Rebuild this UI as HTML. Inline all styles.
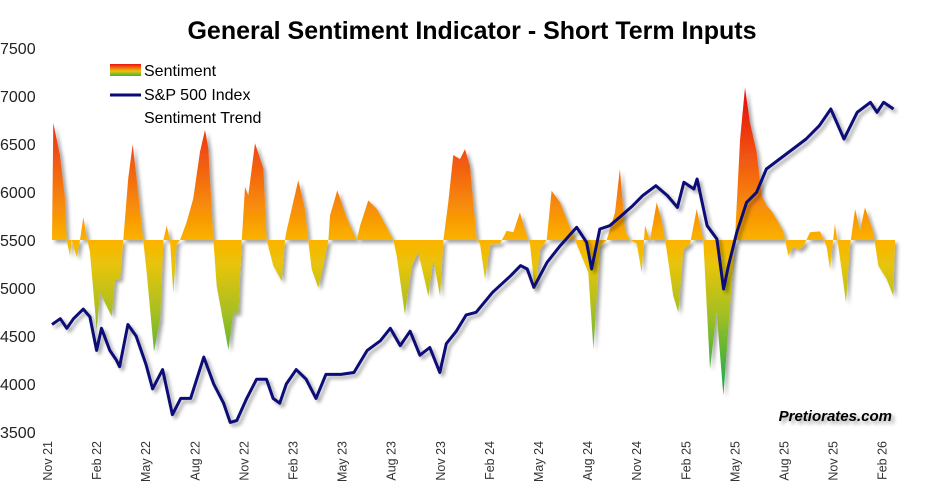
<!DOCTYPE html>
<html><head><meta charset="utf-8"><style>
html,body{margin:0;padding:0;background:#fff;}
svg{display:block;font-family:"Liberation Sans",sans-serif;}
</style></head><body>
<svg id="chart" width="945" height="494" viewBox="0 0 945 494">
<defs>
<linearGradient id="sentGrad" gradientUnits="userSpaceOnUse" x1="0" y1="99" x2="0" y2="384">
<stop offset="0" stop-color="#e8140f"/>
<stop offset="0.22" stop-color="#f25a12"/>
<stop offset="0.5" stop-color="#fbb400"/>
<stop offset="0.58" stop-color="#e8c40a"/>
<stop offset="0.75" stop-color="#a6bf22"/>
<stop offset="1" stop-color="#1fae45"/>
</linearGradient>
<linearGradient id="legGrad" x1="0" y1="0" x2="0" y2="1">
<stop offset="0" stop-color="#e8140f"/><stop offset="0.35" stop-color="#f57a10"/>
<stop offset="0.6" stop-color="#e8c40a"/><stop offset="1" stop-color="#3cb43c"/>
</linearGradient>
<filter id="shadow" x="-5%" y="-5%" width="110%" height="115%">
<feDropShadow dx="3" dy="3" stdDeviation="1.8" flood-color="#000" flood-opacity="0.35"/>
</filter>
</defs>
<text x="472" y="39" text-anchor="middle" font-size="25" font-weight="bold" fill="#000">General Sentiment Indicator - Short Term Inputs</text>
<g id="yaxis"></g>
<g id="xaxis"></g>
<g id="plot"></g>
<g font-size="16" fill="#000">
<rect x="110" y="64" width="31" height="12" fill="url(#legGrad)"/>
<text x="144" y="76">Sentiment</text>
<line x1="110" y1="95" x2="141" y2="95" stroke="#0a0a78" stroke-width="3"/>
<text x="144" y="100">S&amp;P 500 Index</text>
<text x="144" y="123">Sentiment Trend</text>
</g>
<text x="892" y="421" text-anchor="end" font-size="15" font-weight="bold" font-style="italic" fill="#000" filter="url(#shadow)">Pretiorates.com</text>
</svg>
<script>
const yTicks = [3500,4000,4500,5000,5500,6000,6500,7000,7500];
const xLabels = ["Nov 21","Feb 22","May 22","Aug 22","Nov 22","Feb 23","May 23","Aug 23","Nov 23","Feb 24","May 24","Aug 24","Nov 24","Feb 25","May 25","Aug 25","Nov 25","Feb 26"];
const baseline = 5500;
const spMonths = [0,0.5,0.9,1.3,1.9,2.3,2.7,3.0,3.5,3.9,4.1,4.6,5.1,5.7,6.1,6.7,7.3,7.8,8.4,9.2,9.8,10.4,10.8,11.2,11.8,12.4,13.0,13.4,13.8,14.2,14.8,15.4,16.0,16.6,17.5,18.3,19.1,19.9,20.5,21.1,21.7,22.3,22.9,23.5,23.9,24.5,25.1,25.7,26.7,27.8,28.4,28.8,29.2,30.0,30.8,31.8,32.4,32.7,33.2,33.8,34.4,35.2,35.8,36.6,37.3,37.9,38.3,38.9,39.1,39.7,40.3,40.7,41.0,41.5,42.1,42.7,43.3,44.1,44.9,45.7,46.5,47.2,48.0,48.8,49.6,50.0,50.4,51.0];
const spValues = [4620,4680,4580,4680,4780,4700,4350,4580,4350,4250,4180,4620,4500,4200,3950,4150,3680,3850,3850,4280,4000,3800,3600,3620,3850,4050,4050,3850,3800,4000,4150,4050,3850,4100,4100,4120,4350,4450,4580,4400,4550,4300,4380,4120,4420,4550,4720,4747,4955,5128,5233,5198,5007,5267,5441,5632,5476,5198,5615,5649,5736,5858,5962,6066,5962,5840,6101,6031,6135,5649,5510,4990,5233,5580,5892,5997,6240,6344,6448,6552,6691,6865,6552,6830,6934,6830,6934,6865];
const sentMonths = [0,0.08,0.48,0.79,0.89,1.09,1.19,1.5,1.7,1.9,2.14,2.3,2.71,2.91,3.31,3.62,3.82,4.12,4.32,4.62,4.89,5.13,5.53,5.74,6.18,6.55,6.75,6.95,7.15,7.35,7.56,7.76,8.16,8.56,8.97,9.27,9.47,9.78,9.98,10.69,10.99,11.29,11.5,11.7,11.9,12.3,12.81,13.01,13.41,13.92,14.12,14.22,14.53,14.93,15.33,15.53,15.74,16.14,16.44,16.75,16.85,17.29,17.86,18.47,18.67,19.17,19.68,20.08,20.69,20.89,21.39,21.8,22.2,22.81,23.11,23.52,23.72,24.02,24.32,24.73,25.03,25.33,25.74,25.94,26.24,26.55,27.15,27.56,27.96,28.36,28.67,28.97,29.27,29.58,29.98,30.28,30.79,31.19,31.7,32.5,32.81,33.21,33.62,34.12,34.42,34.73,35.03,35.44,35.74,35.94,36.24,36.65,36.95,37.25,37.65,37.96,38.26,38.67,39.07,39.47,39.88,40.28,40.69,41.09,41.39,41.7,42.0,42.3,42.71,43.01,43.31,43.62,44.02,44.32,44.63,44.93,45.23,45.53,45.94,46.55,46.95,47.15,47.45,47.66,48.12,48.36,48.67,48.97,49.27,49.78,50.08,50.58,50.99,51.09];
const sentValues = [5500,6720,6385,5930,5500,5336,5500,5318,5500,5738,5500,5380,4566,4951,4811,4706,5091,5091,5500,6140,6497,6140,5500,5160,4339,4671,5500,5650,5500,4951,5460,5500,5685,5930,6420,6647,6455,5500,5020,4357,4741,4741,5500,6052,5965,6507,6245,5500,5231,5073,5500,5598,5825,6122,5825,5500,5196,5003,5231,5500,5755,6017,5730,5500,5650,5913,5825,5700,5500,5336,4724,5230,5371,4916,5300,4916,5500,5895,6385,6343,6447,6274,5500,5460,5094,5450,5460,5597,5580,5788,5600,5460,4955,5400,5500,6014,5892,5719,5500,5163,4366,5430,5500,5788,6240,5600,5500,5460,5163,5650,5500,5892,5700,5400,4920,4747,5400,5460,5823,5500,4157,4750,3880,4816,5500,6551,7089,6725,6413,5961,5858,5800,5684,5590,5337,5430,5400,5430,5580,5590,5430,5198,5667,5430,4851,5430,5823,5600,5840,5580,5233,5094,4920,5500];

const NS = "http://www.w3.org/2000/svg";
function xScale(m){ return 52 + m * 16.5; }
function labelX(i){ return 52 + i * 49.1; }
function yScale(v){ return 432 - (v - 3500) / 4000 * 384; }
function mk(tag, attrs, parent){ const e = document.createElementNS(NS, tag); for (const k in attrs) e.setAttribute(k, attrs[k]); parent.appendChild(e); return e; }

const yaxis = document.getElementById('yaxis');
yTicks.forEach(v => {
  const t = mk('text', {x: 0, y: yScale(v) + 6, 'font-size': 16, fill: '#222'}, yaxis);
  
  
  t.textContent = v;
});
const xaxis = document.getElementById('xaxis');
xLabels.forEach((lab, i) => {
  const x = labelX(i);
  const t = mk('text', {x: 0, y: 0, 'font-size': 12.5, fill: '#333', 'text-anchor': 'end', transform: `translate(${x},441) rotate(-90)`}, xaxis);
  
  
  t.textContent = lab;
});

const plot = document.getElementById('plot');
let d = `M${xScale(sentMonths[0])},${yScale(baseline)}`;
sentMonths.forEach((m, i) => { d += ` L${xScale(m).toFixed(1)},${yScale(sentValues[i]).toFixed(1)}`; });
d += ` L${xScale(sentMonths[sentMonths.length-1])},${yScale(baseline)} Z`;
const area = mk('path', {d: d, fill: 'url(#sentGrad)', filter: 'url(#shadow)'}, plot);



let ld = '';
spMonths.forEach((m, i) => { ld += (i ? ' L' : 'M') + xScale(m).toFixed(1) + ',' + yScale(spValues[i]).toFixed(1); });
const line = mk('path', {d: ld, fill: 'none', stroke: '#0a0a78', 'stroke-width': 3, 'stroke-linejoin': 'round', filter: 'url(#shadow)'}, plot);


</script>
</body></html>
